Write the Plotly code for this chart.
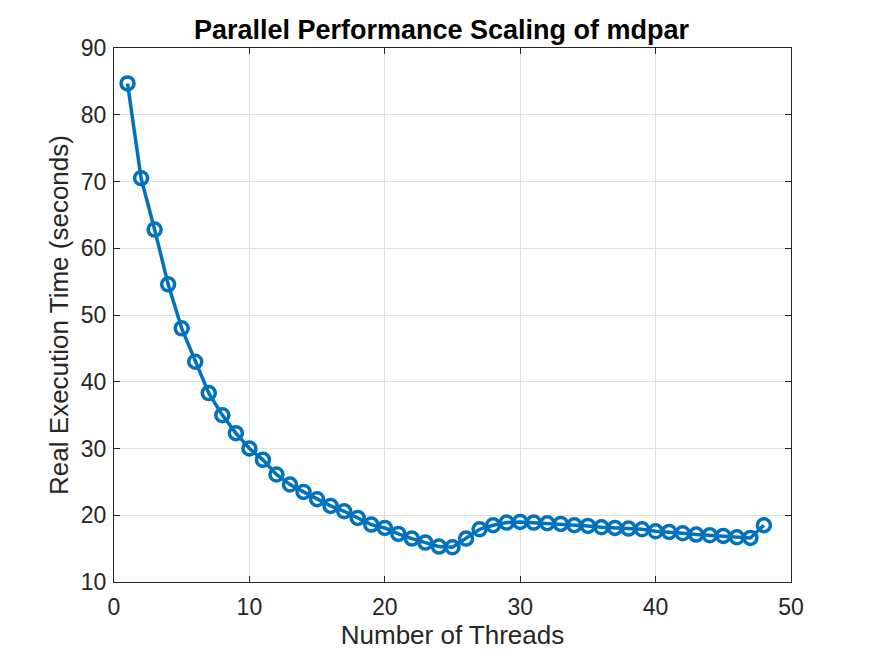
import plotly.graph_objects as go

threads = list(range(1, 49))
exec_time = [84.7, 70.5, 62.8, 54.6, 48.0, 43.0, 38.3, 35.0, 32.3, 30.0,
             28.3, 26.1, 24.6, 23.5, 22.4, 21.4, 20.6, 19.6, 18.6, 18.1,
             17.2, 16.5, 15.9, 15.3, 15.2, 16.5, 17.9, 18.5, 18.9, 19.0,
             18.9, 18.8, 18.7, 18.5, 18.4, 18.2, 18.1, 18.0, 17.9, 17.6,
             17.5, 17.3, 17.1, 17.0, 16.9, 16.7, 16.6, 18.5]

BLUE = '#0072BD'
FONT = dict(family='Liberation Sans, Arial, sans-serif', color='#262626')

fig = go.Figure(go.Scatter(
    x=threads,
    y=exec_time,
    mode='lines+markers',
    line=dict(color=BLUE, width=3.5),
    marker=dict(symbol='circle-open', size=13, color=BLUE, line=dict(width=3.5)),
))

axis_common = dict(
    showline=True, linecolor='#262626', linewidth=1, mirror='allticks',
    ticks='inside', ticklen=6, tickcolor='#262626',
    showgrid=True, gridcolor='#dfdfdf', gridwidth=1,
    zeroline=False, tickfont=dict(size=23, **FONT),
)

# page body has an 8px margin, so the figure is shrunk by that much
fig.update_layout(
    width=867, height=648,
    margin=dict(l=106, r=84, t=40, b=72),
    paper_bgcolor='white', plot_bgcolor='white',
    showlegend=False,
    title=dict(text='<b>Parallel Performance Scaling of mdpar</b>',
               x=0.5, xanchor='center', y=0.966, yanchor='middle',
               font=dict(size=27, family=FONT['family'], color='black')),
    xaxis=dict(range=[0, 50], dtick=10, ticklabelstandoff=4,
               title=dict(text='Number of Threads', font=dict(size=26, **FONT), standoff=6),
               **axis_common),
    yaxis=dict(range=[10, 90], dtick=10, ticklabelstandoff=2,
               title=dict(text='Real Execution Time (seconds)', font=dict(size=26, **FONT), standoff=4),
               **axis_common),
)

fig.write_html("out.html")
